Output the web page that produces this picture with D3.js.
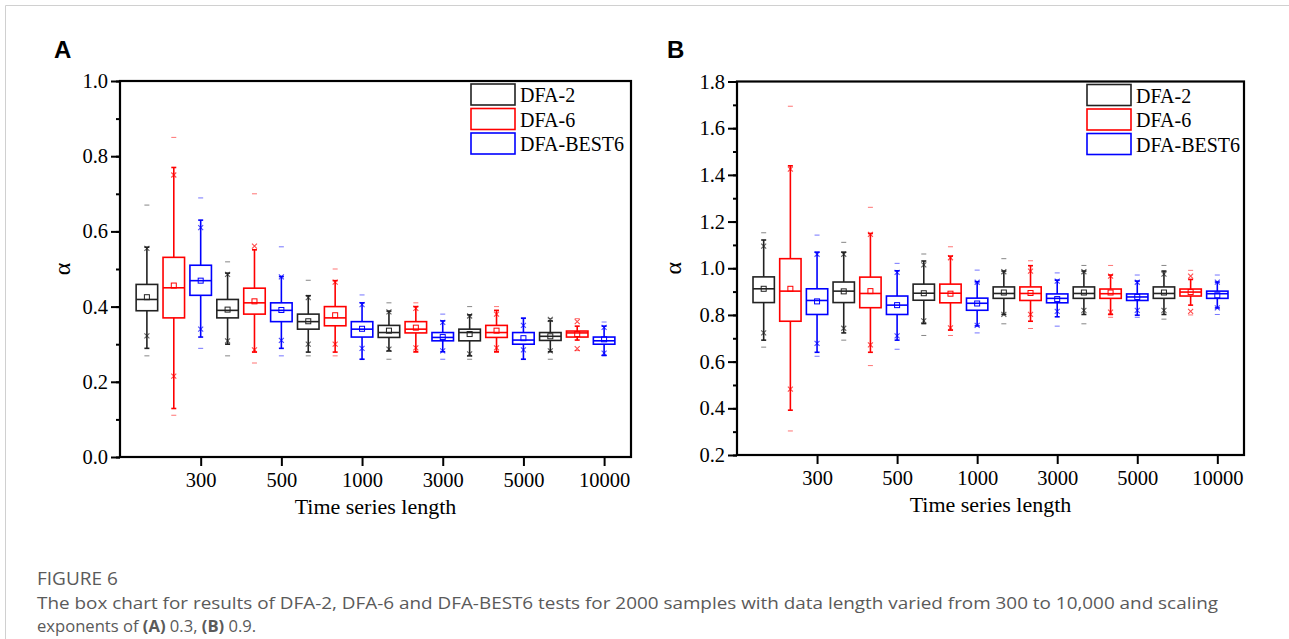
<!DOCTYPE html>
<html>
<head>
<meta charset="utf-8">
<script src="https://cdn.jsdelivr.net/npm/d3@7"></script>
<style>
  html, body { margin: 0; padding: 0; background: #fff; }
  svg { display: block; }
</style>
</head>
<body>
<svg id="chart" width="1289" height="639"></svg>
<script>
// ---------------- DATA ----------------
const lengths = ["300", "500", "1000", "3000", "5000", "10000"];
const methods = ["DFA-2", "DFA-6", "DFA-BEST6"];
const methodColors = ["#222222", "#ff0000", "#0000ff"];

// Values ordered by length, then method (DFA-2, DFA-6, DFA-BEST6)
// Panel A (scaling exponent 0.3)
const A_q3   = [0.459,0.531,0.510, 0.419,0.449,0.410, 0.380,0.400,0.360, 0.350,0.360,0.331, 0.340,0.350,0.331, 0.331,0.335,0.319];
const A_q1   = [0.389,0.370,0.430, 0.370,0.380,0.360, 0.340,0.349,0.319, 0.318,0.330,0.309, 0.309,0.318,0.300, 0.310,0.319,0.300];
const A_med  = [0.419,0.450,0.469, 0.390,0.410,0.390, 0.360,0.370,0.340, 0.331,0.340,0.318, 0.331,0.331,0.311, 0.321,0.330,0.309];
const A_mean = [0.425,0.456,0.469, 0.392,0.414,0.391, 0.361,0.377,0.341, 0.336,0.344,0.319, 0.327,0.336,0.316, 0.321,0.327,0.313];
const A_whi  = [0.558,0.770,0.630, 0.489,0.551,0.480, 0.429,0.469,0.410, 0.388,0.400,0.362, 0.378,0.390,0.369, 0.362,0.348,0.348];
const A_wlo  = [0.289,0.129,0.319, 0.300,0.279,0.289, 0.279,0.279,0.260, 0.282,0.280,0.280, 0.269,0.280,0.260, 0.280,0.311,0.270];
const A_p99  = [0.555,0.750,0.610, 0.486,0.561,0.479, 0.424,0.465,0.405, 0.386,0.395,0.358, 0.375,0.380,0.350, 0.366,0.360,0.345];
const A_p1   = [0.322,0.215,0.340, 0.309,0.285,0.310, 0.300,0.300,0.289, 0.287,0.290,0.282, 0.274,0.290,0.285, 0.282,0.288,0.276];
const A_max  = [0.670,0.850,0.689, 0.519,0.700,0.559, 0.470,0.500,0.431, 0.410,0.410,0.380, 0.400,0.400,0.370, 0.368,0.368,0.359];
const A_min  = [0.269,0.111,0.289, 0.269,0.250,0.269, 0.269,0.269,0.260, 0.260,0.278,0.260, 0.260,0.278,0.260, 0.260,0.283,0.270];

// Panel B (scaling exponent 0.9)
const B_q3   = [0.963,1.041,0.912, 0.941,0.962,0.881, 0.932,0.932,0.872, 0.920,0.920,0.890, 0.920,0.911,0.890, 0.920,0.911,0.902];
const B_q1   = [0.853,0.773,0.802, 0.853,0.831,0.802, 0.863,0.852,0.820, 0.871,0.862,0.852, 0.871,0.871,0.862, 0.871,0.881,0.871];
const B_med  = [0.912,0.902,0.862, 0.902,0.892,0.842, 0.893,0.893,0.850, 0.892,0.892,0.871, 0.892,0.891,0.877, 0.892,0.898,0.891];
const B_mean = [0.912,0.912,0.858, 0.901,0.902,0.842, 0.893,0.891,0.849, 0.896,0.894,0.868, 0.896,0.896,0.877, 0.896,0.898,0.884];
const B_whi  = [1.121,1.439,1.069, 1.069,1.149,0.989, 1.031,1.052,0.942, 0.988,1.011,0.949, 0.988,0.971,0.945, 0.988,0.952,0.941];
const B_wlo  = [0.692,0.392,0.640, 0.723,0.640,0.692, 0.763,0.735,0.753, 0.802,0.773,0.792, 0.802,0.802,0.799, 0.802,0.842,0.830];
const B_p99  = [1.095,1.425,1.060, 1.060,1.145,0.982, 1.014,1.045,0.940, 0.985,0.988,0.945, 0.985,0.966,0.940, 0.975,0.966,0.941];
const B_p1   = [0.723,0.482,0.678, 0.743,0.672,0.710, 0.775,0.745,0.755, 0.802,0.802,0.815, 0.820,0.812,0.820, 0.820,0.815,0.830];
const B_max  = [1.152,1.694,1.142, 1.111,1.261,1.021, 1.061,1.092,0.992, 1.041,1.032,0.980, 1.012,1.012,0.971, 1.012,0.991,0.971];
const B_min  = [0.662,0.303,0.623, 0.692,0.583,0.653, 0.712,0.712,0.723, 0.762,0.742,0.752, 0.762,0.790,0.790, 0.782,0.800,0.802];

const A_yTicks = [0.0, 0.2, 0.4, 0.6, 0.8, 1.0];
const B_yTicks = [0.2, 0.4, 0.6, 0.8, 1.0, 1.2, 1.4, 1.6, 1.8];

const xTitle = "Time series length";
const yTitle = "α";
const captionTitle = "FIGURE 6";
const captionLine1 = "The box chart for results of DFA-2, DFA-6 and DFA-BEST6 tests for 2000 samples with data length varied from 300 to 10,000 and scaling";

// ---------------- DRAW ----------------
const svg = d3.select("#chart");
const serif = "'Liberation Serif', 'Times New Roman', serif";
const sans = "'Open Sans', 'Noto Sans', sans-serif";

// page card border
svg.append("line").attr("x1", 5.5).attr("x2", 1289).attr("y1", 5.5).attr("y2", 5.5)
  .attr("stroke", "#d0d0d0").attr("stroke-width", 1);
svg.append("line").attr("x1", 5.5).attr("x2", 5.5).attr("y1", 5.5).attr("y2", 639)
  .attr("stroke", "#d0d0d0").attr("stroke-width", 1);

function panel(cfg) {
  const { x0, x1, y0, y1, domain, yTicks, letter, letterX, yTitleX, legendX, stats } = cfg;
  const g = svg.append("g");
  const x = d3.scaleLinear().domain([0, 19]).range([x0, x1]);
  const y = d3.scaleLinear().domain(domain).range([y1, y0]);

  // minor y ticks
  const minor = d3.range(domain[0], domain[1] + 1e-9, 0.1).map(v => +v.toFixed(2));
  const yMinorAxis = d3.axisLeft(y).tickValues(minor).tickSize(4).tickFormat("");
  g.append("g").attr("transform", `translate(${x0},0)`).call(yMinorAxis)
    .call(s => s.select(".domain").remove())
    .selectAll("line").attr("stroke", "#000").attr("stroke-width", 2);

  const yAxis = d3.axisLeft(y).tickValues(yTicks).tickSize(9).tickPadding(3)
    .tickFormat(d3.format(".1f"));
  g.append("g").attr("transform", `translate(${x0},0)`).call(yAxis)
    .call(s => s.select(".domain").remove())
    .call(s => s.selectAll("line").attr("stroke", "#000").attr("stroke-width", 2))
    .call(s => s.selectAll("text").attr("font-family", serif).attr("font-size", 20.5).attr("fill", "#000"));

  const xTickVals = lengths.map((_, i) => (i + 1) * 3);
  const xAxis = d3.axisBottom(x).tickValues(xTickVals).tickSize(9).tickPadding(6)
    .tickFormat((d, i) => lengths[i]);
  g.append("g").attr("transform", `translate(0,${y1})`).call(xAxis)
    .call(s => s.select(".domain").remove())
    .call(s => s.selectAll("line").attr("stroke", "#000").attr("stroke-width", 2))
    .call(s => s.selectAll("text").attr("font-family", serif).attr("font-size", 20.5).attr("fill", "#000"));

  // frame
  g.append("rect").attr("x", x0).attr("y", y0).attr("width", x1 - x0).attr("height", y1 - y0)
    .attr("fill", "none").attr("stroke", "#000").attr("stroke-width", 2.2);

  // boxes
  const n = stats.q3.length;
  const bw = (x(1) - x(0)) * 0.8;
  for (let i = 0; i < n; i++) {
    const cx = x(i + 1);
    const col = methodColors[i % 3];
    const bg = g.append("g").attr("stroke", col).attr("fill", "none").attr("stroke-width", 1.6);
    // whiskers
    bg.append("line").attr("x1", cx).attr("x2", cx).attr("y1", y(stats.q3[i])).attr("y2", y(stats.whi[i]));
    bg.append("line").attr("x1", cx).attr("x2", cx).attr("y1", y(stats.q1[i])).attr("y2", y(stats.wlo[i]));
    // caps
    [stats.whi[i], stats.wlo[i]].forEach(v => {
      bg.append("line").attr("x1", cx - 2.5).attr("x2", cx + 2.5).attr("y1", y(v)).attr("y2", y(v));
    });
    // box
    bg.append("rect").attr("x", cx - bw / 2).attr("width", bw)
      .attr("y", y(stats.q3[i])).attr("height", y(stats.q1[i]) - y(stats.q3[i]));
    // median
    bg.append("line").attr("x1", cx - bw / 2).attr("x2", cx + bw / 2)
      .attr("y1", y(stats.med[i])).attr("y2", y(stats.med[i]));
    // mean square
    bg.append("rect").attr("x", cx - 2.5).attr("y", y(stats.mean[i]) - 2.5)
      .attr("width", 5).attr("height", 5).attr("stroke-width", 1);
    // x markers (1% / 99%)
    [stats.p99[i], stats.p1[i]].forEach(v => {
      const yy = y(v);
      bg.append("path").attr("d", `M${cx - 2.5},${yy - 2.5}L${cx + 2.5},${yy + 2.5}M${cx - 2.5},${yy + 2.5}L${cx + 2.5},${yy - 2.5}`)
        .attr("stroke-width", 1.1).attr("opacity", 0.7);
    });
    // min / max dashes
    [stats.max[i], stats.min[i]].forEach(v => {
      bg.append("line").attr("x1", cx - 2.5).attr("x2", cx + 2.5).attr("y1", y(v)).attr("y2", y(v))
        .attr("stroke-width", 1).attr("opacity", 0.55);
    });
  }

  // legend
  methods.forEach((m, j) => {
    const ly = y0 + 3 + j * 24.5;
    g.append("rect").attr("x", legendX).attr("y", ly).attr("width", 44).attr("height", 21)
      .attr("fill", "none").attr("stroke", methodColors[j]).attr("stroke-width", 1.6);
    g.append("text").attr("x", legendX + 49).attr("y", ly + 18).text(m)
      .attr("font-family", serif).attr("font-size", 20).attr("fill", "#000");
  });

  // axis titles
  g.append("text").attr("x", (x0 + x1) / 2).attr("y", y1 + 57).attr("text-anchor", "middle")
    .attr("font-family", serif).attr("font-size", 22).attr("fill", "#000").text(xTitle);
  g.append("text").attr("transform", `translate(${yTitleX},${(y0 + y1) / 2}) rotate(-90)`)
    .attr("text-anchor", "middle").attr("dominant-baseline", "central")
    .attr("font-family", serif).attr("font-size", 24).attr("fill", "#000").text(yTitle);

  // panel letter
  g.append("text").attr("x", letterX).attr("y", 58).text(letter)
    .attr("font-family", "'Liberation Sans', Arial, sans-serif").attr("font-weight", "bold")
    .attr("font-size", 24).attr("fill", "#000");
}

panel({
  x0: 120, x1: 631, y0: 81, y1: 457, domain: [0, 1], yTicks: A_yTicks,
  letter: "A", letterX: 54, yTitleX: 62, legendX: 471,
  stats: { q3: A_q3, q1: A_q1, med: A_med, mean: A_mean, whi: A_whi, wlo: A_wlo, p99: A_p99, p1: A_p1, max: A_max, min: A_min }
});
panel({
  x0: 737, x1: 1244, y0: 81.5, y1: 455, domain: [0.2, 1.8], yTicks: B_yTicks,
  letter: "B", letterX: 667, yTitleX: 673, legendX: 1087,
  stats: { q3: B_q3, q1: B_q1, med: B_med, mean: B_mean, whi: B_whi, wlo: B_wlo, p99: B_p99, p1: B_p1, max: B_max, min: B_min }
});

// caption
svg.append("text").attr("x", 37).attr("y", 585).text(captionTitle)
  .attr("font-family", sans).attr("font-size", 19).attr("fill", "#5a5a5a").attr("font-weight", 500);
const l1 = svg.append("text").attr("x", 37).attr("y", 609)
  .attr("font-family", sans).attr("font-size", 16.6).attr("fill", "#5a5a5a").text(captionLine1);
l1.attr("textLength", 1181).attr("lengthAdjust", "spacingAndGlyphs");
const l2 = svg.append("text").attr("x", 37).attr("y", 632)
  .attr("font-family", sans).attr("font-size", 16.6).attr("fill", "#5a5a5a");
l2.append("tspan").text("exponents of ");
l2.append("tspan").attr("font-weight", "bold").text("(A)");
l2.append("tspan").text(" 0.3, ");
l2.append("tspan").attr("font-weight", "bold").text("(B)");
l2.append("tspan").text(" 0.9.");
</script>
</body>
</html>
